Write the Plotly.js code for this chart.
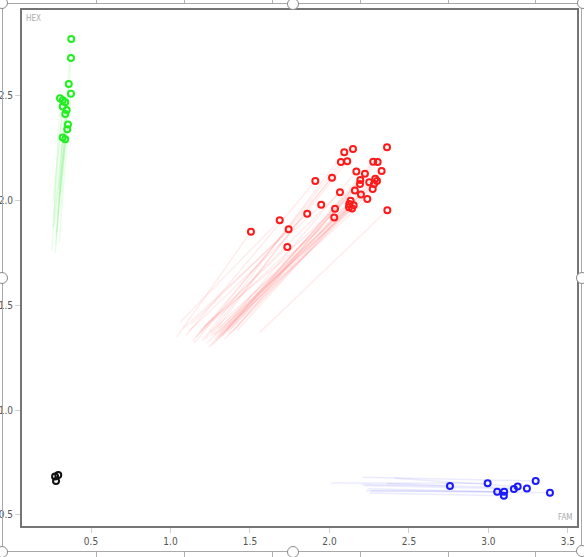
<!DOCTYPE html>
<html>
<head>
<meta charset="utf-8">
<script src="https://cdn.plot.ly/plotly-3.0.1.min.js"></script>
<style>
html,body{margin:0;padding:0;background:#fff;}
#wrap{position:relative;width:584px;height:557px;overflow:hidden;}
#chart{position:absolute;left:0;top:0;width:584px;height:557px;}
.frame{position:absolute;left:2px;top:3px;width:580px;height:549px;border:1px solid #a8a8a8;box-sizing:border-box;pointer-events:none;}
.tick{position:absolute;width:1px;background:#b0b0b0;}
.handle{position:absolute;width:10px;height:10px;margin-left:-6px;margin-top:-6px;border:1.5px solid #8a8a8a;border-radius:50%;background:#fff;}
</style>
</head>
<body>
<div id="wrap">
<div id="chart"></div>
<div class="frame"></div>
</div>
<script>
// ---- data (FAM = x, HEX = y) ----
var greenX = [0.376,0.374,0.360,0.374,0.305,0.322,0.338,0.322,0.347,0.338,0.355,0.351,0.322,0.338];
var greenY = [2.771,2.681,2.557,2.510,2.489,2.479,2.470,2.449,2.433,2.414,2.363,2.341,2.301,2.293];
var greenStartX = [0.30,0.31,0.285,0.30,0.255,0.265,0.28,0.26,0.275,0.27,0.29,0.295,0.262,0.278];
var greenStartY = [2.02,1.96,1.85,1.80,1.76,1.92,1.83,1.99,1.75,1.88,1.94,2.05,1.87,1.79];

var redX = [2.093,2.148,2.362,2.072,2.112,2.275,2.303,2.169,2.328,2.223,1.911,2.016,2.194,2.192,2.250,2.288,2.299,2.280,2.272,2.160,2.066,2.198,2.238,1.948,2.133,2.124,2.152,2.123,2.142,2.035,1.860,2.030,2.364,1.687,1.743,1.506,1.735];
var redY = [2.231,2.247,2.255,2.184,2.188,2.186,2.184,2.139,2.141,2.128,2.094,2.109,2.098,2.079,2.088,2.104,2.094,2.079,2.056,2.048,2.040,2.029,2.008,1.981,1.999,1.984,1.978,1.969,1.962,1.961,1.937,1.919,1.954,1.907,1.864,1.852,1.779];
var redStartX = [1.20,1.25,1.40,1.15,1.22,1.33,1.36,1.28,1.42,1.30,1.10,1.14,1.26,1.29,1.32,1.34,1.37,1.35,1.38,1.27,1.18,1.31,1.36,1.12,1.24,1.23,1.28,1.25,1.30,1.16,1.08,1.21,1.56,1.06,1.13,1.04,1.19];
var redStartY = [1.33,1.35,1.38,1.32,1.34,1.36,1.37,1.34,1.38,1.35,1.36,1.33,1.31,1.33,1.35,1.34,1.36,1.38,1.39,1.36,1.37,1.37,1.40,1.38,1.30,1.32,1.36,1.37,1.39,1.35,1.39,1.40,1.37,1.42,1.41,1.35,1.38];

var blueX = [2.758,2.995,3.055,3.099,3.097,3.160,3.184,3.242,3.297,3.387];
var blueY = [0.638,0.651,0.610,0.610,0.591,0.624,0.635,0.626,0.662,0.606];
var blueStartX = [2.20,2.01,2.24,2.23,2.25,2.22,2.41,2.36,2.21,2.26];
var blueStartY = [0.645,0.652,0.625,0.615,0.605,0.640,0.675,0.650,0.680,0.615];

var blackX = [0.274,0.294,0.280];
var blackY = [0.683,0.691,0.662];

var tickVals = [0.5,1.0,1.5,2.0,2.5,3.0,3.5];
var tickText = ['0.5','1.0','1.5','2.0','2.5','3.0','3.5'];
var yTickVals = [0.5,1.0,1.5,2.0,2.5];
var yTickText = ['0.5','1.0','1.5','2.0','2.5'];

// ---- traces ----
var traces = [];
function addLines(sx, sy, ex, ey, color, w){
  for (var i = 0; i < ex.length; i++){
    traces.push({x:[sx[i], ex[i]], y:[sy[i], ey[i]], mode:'lines', type:'scatter',
      line:{color:color, width:w}, hoverinfo:'skip', showlegend:false});
  }
}
addLines(greenStartX, greenStartY, greenX, greenY, 'rgba(0,230,0,0.09)', 1.3);
addLines(redStartX, redStartY, redX, redY, 'rgba(255,40,40,0.09)', 1.4);
addLines(blueStartX, blueStartY, blueX, blueY, 'rgba(60,60,255,0.10)', 1.5);

function addPts(x, y, color){
  traces.push({x:x, y:y, mode:'markers', type:'scatter', showlegend:false,
    marker:{symbol:'circle-open', size:6, color:color, line:{width:2, color:color}}});
}
addPts(greenX, greenY, '#22ee22');
addPts(redX, redY, '#ff1a1a');
addPts(blueX, blueY, '#1a1aff');
addPts(blackX, blackY, '#111111');

var font = {family:'Liberation Sans Narrow, DejaVu Sans Condensed, sans-serif', size:10, color:'#555'};

var layout = {
  width:584, height:557,
  margin:{l:22, r:7, t:10, b:31},
  paper_bgcolor:'rgba(0,0,0,0)', plot_bgcolor:'#fff',
  showlegend:false,
  font:font,
  xaxis:{range:[0.066,3.557], tickvals:tickVals, ticktext:tickText, showgrid:false, zeroline:false,
    showline:true, mirror:true, linecolor:'#757575', linewidth:2, ticks:'outside', ticklen:5, tickcolor:'#d0d0d0', tickwidth:1,
    tickfont:font},
  yaxis:{range:[0.447,2.91], tickvals:yTickVals, ticktext:yTickText, showgrid:false, zeroline:false,
    showline:true, mirror:true, linecolor:'#757575', linewidth:2, ticks:'outside', ticklen:5, tickcolor:'#d0d0d0', tickwidth:1,
    tickfont:font},
  annotations:[
    {text:'HEX', xref:'paper', yref:'paper', x:0.003, y:0.997, xanchor:'left', yanchor:'top', showarrow:false,
     font:{family:'Liberation Sans Narrow, DejaVu Sans Condensed, sans-serif', size:8, color:'#aaa'}},
    {text:'FAM', xref:'paper', yref:'paper', x:0.997, y:0.004, xanchor:'right', yanchor:'bottom', showarrow:false,
     font:{family:'Liberation Sans Narrow, DejaVu Sans Condensed, sans-serif', size:8, color:'#aaa'}}
  ]
};

Plotly.newPlot('chart', traces, layout, {staticPlot:true, displayModeBar:false});

// ---- document selection frame decoration ----
var wrap = document.getElementById('wrap');
var rulerX = [96,183.5,271.5,359.5,447.5,535];
rulerX.forEach(function(px){
  var t = document.createElement('div'); t.className='tick';
  t.style.left = px+'px'; t.style.top='0px'; t.style.height='3px'; wrap.appendChild(t);
  var b = document.createElement('div'); b.className='tick';
  b.style.left = px+'px'; b.style.top='552px'; b.style.height='5px'; wrap.appendChild(b);
});
var handles = [[2,3],[293,4],[583,3],[2,278],[582,278],[2,552],[293,552],[582,551]];
handles.forEach(function(h){
  var d = document.createElement('div'); d.className='handle';
  d.style.left = h[0]+'px'; d.style.top = h[1]+'px'; wrap.appendChild(d);
});
</script>
</body>
</html>
